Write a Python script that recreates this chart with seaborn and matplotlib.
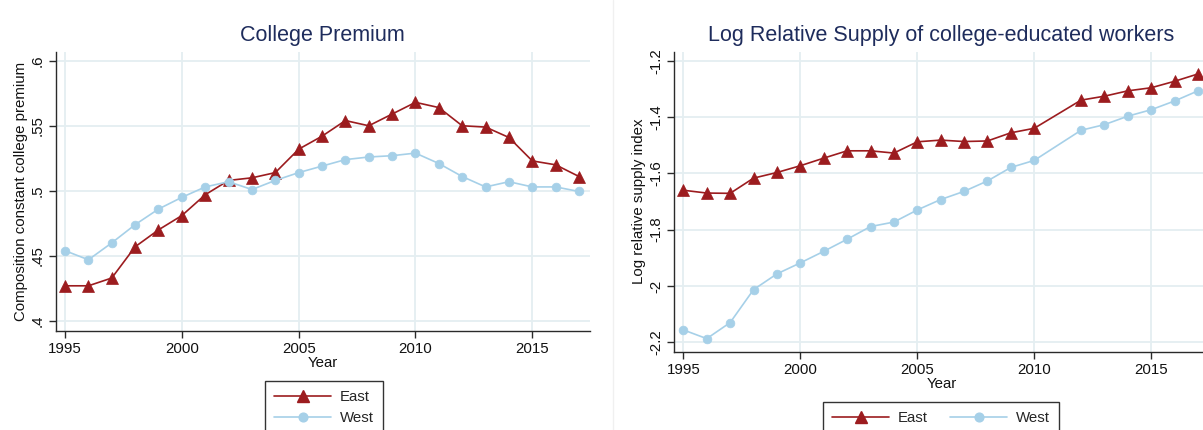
import matplotlib
matplotlib.use("Agg")
import matplotlib.pyplot as plt
from matplotlib.lines import Line2D
import pandas as pd
import seaborn as sns

# ---------------- data ----------------
premium_years = [1995, 1996, 1997, 1998, 1999, 2000, 2001, 2002, 2003, 2004, 2005,
                 2006, 2007, 2008, 2009, 2010, 2011, 2012, 2013, 2014, 2015, 2016, 2017]
premium_east = [0.427, 0.427, 0.433, 0.457, 0.470, 0.481, 0.497, 0.508, 0.510, 0.514, 0.532,
                0.542, 0.554, 0.550, 0.559, 0.568, 0.564, 0.550, 0.549, 0.541, 0.523, 0.520, 0.511]
premium_west = [0.454, 0.447, 0.460, 0.474, 0.486, 0.495, 0.503, 0.507, 0.501, 0.508, 0.514,
                0.519, 0.524, 0.526, 0.527, 0.529, 0.521, 0.511, 0.503, 0.507, 0.503, 0.503, 0.4995]

supply_years = [1995, 1996, 1997, 1998, 1999, 2000, 2001, 2002, 2003, 2004, 2005,
                2006, 2007, 2008, 2009, 2010, 2012, 2013, 2014, 2015, 2016, 2017]
supply_east = [-1.660, -1.670, -1.671, -1.617, -1.597, -1.573, -1.546, -1.520, -1.520, -1.528, -1.488,
               -1.482, -1.487, -1.485, -1.456, -1.440, -1.340, -1.326, -1.307, -1.296, -1.273, -1.247]
supply_west = [-2.156, -2.187, -2.130, -2.013, -1.957, -1.918, -1.877, -1.834, -1.789, -1.773, -1.730,
               -1.693, -1.664, -1.627, -1.579, -1.554, -1.447, -1.427, -1.397, -1.374, -1.343, -1.307]

series_labels = ["East", "West"]
x_ticks = [1995, 2000, 2005, 2010, 2015]
premium_ticks = [0.4, 0.45, 0.5, 0.55, 0.6]
premium_ticklabels = [".4", ".45", ".5", ".55", ".6"]
supply_ticks = [-2.2, -2.0, -1.8, -1.6, -1.4, -1.2]
supply_ticklabels = ["-2.2", "-2", "-1.8", "-1.6", "-1.4", "-1.2"]

# ---------------- style ----------------
sns.set_theme(style="white")
plt.rcParams["font.family"] = ["Liberation Sans", "DejaVu Sans"]

RED = "#9c1c1f"
BLUE = "#a6d0e8"
NAVY = "#1e2c5c"
GRID = "#e4eef1"
FS = 10.8

W, H = 1203, 430
fig = plt.figure(figsize=(W / 100, H / 100), dpi=100)
fig.patch.set_facecolor("white")

ax1 = fig.add_axes([55.7 / W, 1 - 330.7 / H, (590 - 55.7) / W, (330.7 - 52) / H])
ax2 = fig.add_axes([674 / W, 1 - 351.7 / H, (1209 - 674) / W, (351.7 - 51.7) / H])

def draw(ax, years, east, west):
    df = pd.DataFrame({
        "Year": list(years) * 2,
        "value": list(east) + list(west),
        "region": [series_labels[0]] * len(years) + [series_labels[1]] * len(years),
    })
    sns.lineplot(data=df[df.region == "East"], x="Year", y="value", ax=ax, color=RED,
                 marker="^", markersize=8, markeredgecolor=RED, markeredgewidth=0.5,
                 linewidth=1.2, legend=False)
    sns.lineplot(data=df[df.region == "West"], x="Year", y="value", ax=ax, color=BLUE,
                 marker="o", markersize=6.3, markeredgecolor=BLUE, markeredgewidth=0.5,
                 linewidth=1.2, legend=False)

def style(ax, yticks, ylabels, ylim, title, ylabel):
    ax.set_xlim(1994.6, 2017.47)
    ax.set_ylim(*ylim)
    ax.set_xticks(x_ticks)
    ax.set_xticklabels([str(t) for t in x_ticks])
    ax.set_yticks(yticks)
    ax.set_yticklabels(ylabels, rotation=90, va="center")
    ax.grid(True, color=GRID, linewidth=1.3)
    ax.set_axisbelow(True)
    for s in ["top", "right"]:
        ax.spines[s].set_visible(False)
    for s in ["left", "bottom"]:
        ax.spines[s].set_color("#2a2a2a")
        ax.spines[s].set_linewidth(1.0)
    ax.tick_params(axis="both", which="major", bottom=True, left=True, direction="out",
                   length=5, width=1, color="#2a2a2a", labelsize=FS, labelcolor="#111111", pad=3)
    ax.set_title(title, fontsize=15.5, color=NAVY, pad=8)
    ax.set_xlabel("Year", fontsize=FS, color="#111111", labelpad=0)
    ax.set_ylabel(ylabel, fontsize=FS, color="#111111", labelpad=2)

draw(ax1, premium_years, premium_east, premium_west)
draw(ax2, supply_years, supply_east, supply_west)
style(ax1, premium_ticks, premium_ticklabels, (0.3925, 0.6067), "College Premium",
      "Composition constant college premium")
style(ax2, supply_ticks, supply_ticklabels, (-2.2334, -1.168),
      "Log Relative Supply of college-educated workers", "Log relative supply index")

handles = [
    Line2D([], [], color=RED, marker="^", markersize=8, markeredgecolor=RED, linewidth=1.2),
    Line2D([], [], color=BLUE, marker="o", markersize=6.3, markeredgecolor=BLUE, linewidth=1.2),
]
leg_kw = dict(fontsize=FS, handlelength=3.8, handletextpad=0.55, borderaxespad=0,
              fancybox=False, framealpha=1, edgecolor="#333333", borderpad=0.62,
              labelspacing=0.45)
leg1 = fig.legend(handles, series_labels, loc="upper center",
                  bbox_to_anchor=(324 / W, 1 - 381 / H), ncol=1, **leg_kw)
leg2 = fig.legend(handles, series_labels, loc="upper center",
                  bbox_to_anchor=(941 / W, 1 - 402 / H), ncol=2, columnspacing=1.5, **leg_kw)
for lg in (leg1, leg2):
    lg.get_frame().set_linewidth(1.0)

# faint separator between the two graphs
fig.add_artist(Line2D([613 / W, 613 / W], [0, 1], transform=fig.transFigure,
                      color="#f0f0f0", linewidth=1))

fig.savefig("out.png", dpi=100, facecolor="white")
